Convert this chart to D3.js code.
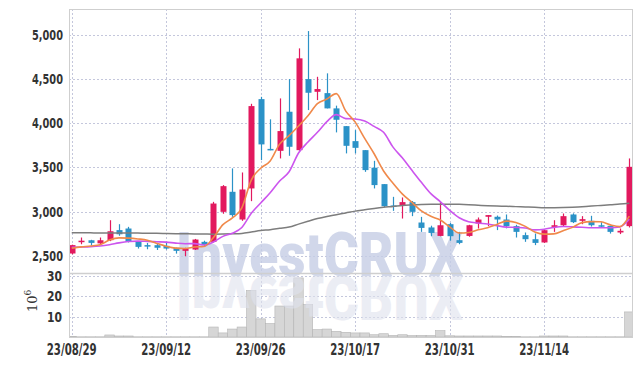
<!DOCTYPE html>
<html>
<head>
<meta charset="utf-8">
<script src="https://cdn.jsdelivr.net/npm/d3@7"></script>
<style>
  html, body { margin: 0; padding: 0; background: #fff; }
  svg { display: block; }
  .lbl { font-family: "Liberation Sans Narrow", "DejaVu Sans Condensed", sans-serif; font-weight: bold; fill: #333; }
</style>
</head>
<body>
<div id="chart"></div>
<script>
const dates = [
  "23/08/29","23/08/30","23/08/31","23/09/01","23/09/04","23/09/05","23/09/06","23/09/07","23/09/08","23/09/11",
  "23/09/12","23/09/13","23/09/14","23/09/15","23/09/18","23/09/19","23/09/20","23/09/21","23/09/22","23/09/25",
  "23/09/26","23/09/27","23/10/04","23/10/05","23/10/06","23/10/10","23/10/11","23/10/12","23/10/13","23/10/16",
  "23/10/17","23/10/18","23/10/19","23/10/20","23/10/23","23/10/24","23/10/25","23/10/26","23/10/27","23/10/30",
  "23/10/31","23/11/01","23/11/02","23/11/03","23/11/06","23/11/07","23/11/08","23/11/09","23/11/10","23/11/13",
  "23/11/14","23/11/15","23/11/16","23/11/17","23/11/20","23/11/21","23/11/22","23/11/23","23/11/24","23/11/27"
];
const open = [2525,2660,2675,2640,2676,2790,2808,2664,2620,2619,2612,2590,2555,2570,2657,2657,2997,3224,2910,3262,
  4274,3710,3688,4131,3696,4501,4357,4342,4169,3968,3798,3696,3497,3311,3069,3069,3107,2876,2820,2724,
  2857,2676,2724,2865,2941,2941,2910,2835,2733,2687,2650,2826,2845,2967,2895,2895,2845,2838,2763,2835];
const high = [2625,2706,2680,2706,2902,2857,2827,2664,2645,2645,2650,2590,2590,2690,2670,3110,3300,3489,3443,4221,
  4300,4045,4282,4501,4849,5045,4527,4566,4200,3968,3923,3696,3575,3311,3167,3160,3120,2940,2840,3110,
  2870,2770,2850,2933,2960,2955,2967,2850,2763,2751,2800,2902,2978,2980,2948,2952,2880,2838,2808,3602];
const low = [2515,2630,2615,2625,2665,2726,2650,2581,2573,2565,2570,2524,2494,2565,2610,2650,2975,2940,2895,3118,
  3583,3695,3602,3632,3690,4150,4263,4169,3897,3659,3659,3450,3262,3050,3008,2921,2948,2770,2721,2720,
  2670,2630,2715,2808,2835,2790,2810,2706,2657,2620,2645,2770,2835,2870,2857,2830,2820,2751,2745,2820];
const close = [2620,2670,2645,2675,2777,2743,2657,2600,2605,2590,2581,2555,2580,2683,2619,3091,3288,2960,3250,4195,
  3761,3700,3912,3734,4736,4346,4388,4169,4040,3745,3722,3470,3300,3061,3054,3107,2997,2815,2758,2845,
  2721,2645,2845,2910,2960,2910,2835,2770,2687,2645,2789,2845,2948,2880,2914,2845,2835,2770,2782,3507];
// volume, millions of shares
const volume = [0.3,0.1,0.1,0.1,1.0,0.5,0.5,0.1,0.1,0.1,0.1,0.1,0.1,0.1,0.1,4.9,2.0,3.9,4.9,22.8,
  8.9,6.6,15.2,15.2,29.0,15.9,3.6,3.9,2.8,2.3,2.0,2.0,1.1,1.6,0.8,1.1,0.7,0.8,0.7,3.1,
  0.6,0.5,0.5,0.5,0.5,0.5,0.2,0.2,0.1,0.1,0.5,0.5,0.5,0.1,0.1,0.1,0.1,0.1,0.1,12.3];
const ma5 = [2585,2600,2610,2625,2677,2702,2699,2690,2676,2639,2607,2586,2582,2598,2604,2706,2852,2928,3042,3357,
  3491,3573,3764,3860,3969,4086,4223,4275,4336,4138,4013,3829,3655,3460,3321,3198,3104,3007,2946,2904,
  2827,2757,2763,2793,2816,2854,2892,2877,2832,2769,2745,2747,2783,2821,2875,2886,2884,2849,2829,2948];
const ma10 = [2595,2598,2602,2610,2625,2645,2660,2665,2662,2658,2654,2643,2636,2637,2621,2656,2719,2755,2820,2980,
  3098,3213,3346,3451,3663,3788,3898,4019,4098,4053,4049,4026,3965,3898,3730,3606,3467,3331,3203,3113,
  3013,2930,2885,2870,2860,2841,2824,2820,2813,2793,2800,2820,2830,2827,2822,2816,2816,2816,2825,2912];
const ma60 = [2760,2760,2759,2758,2758,2757,2757,2756,2755,2754,2752,2750,2748,2746,2745,2744,2745,2748,2752,2768,
  2785,2795,2810,2825,2858,2890,2921,2945,2965,2985,3005,3020,3035,3048,3058,3070,3075,3079,3082,3084,
  3084,3082,3078,3072,3066,3062,3060,3056,3052,3048,3043,3044,3046,3050,3055,3062,3070,3078,3085,3095];
const dateTicks = ["23/08/29","23/09/12","23/09/26","23/10/17","23/10/31","23/11/14"];
const priceTicks = [2500,3000,3500,4000,4500,5000];
const volTicks = [10,20,30];

const W = 642, H = 366;
const pLeft = 69, pRight = 632, pTop = 9, pMid = 273, pBottom = 337;
const red = "#e2195e", blue = "#2b92c7";
const gridColor = "#c4c7dc";

const svg = d3.select("#chart").append("svg").attr("width", W).attr("height", H);

const x = d3.scaleBand().domain(dates).range([67, 634]);
const y = d3.scaleLinear().domain([2304, 5295]).range([pMid, pTop]);
const yv = d3.scaleLinear().domain([0, 31.4]).range([pBottom, pMid]);
const cx = (d) => x(d) + x.bandwidth() / 2;

svg.append("clipPath").attr("id", "pclip")
  .append("rect").attr("x", pLeft).attr("y", pTop).attr("width", pRight - pLeft).attr("height", pMid - pTop);
svg.append("clipPath").attr("id", "vclip")
  .append("rect").attr("x", pLeft).attr("y", pMid).attr("width", pRight - pLeft).attr("height", pBottom - pMid);

// grid
const grid = svg.append("g").attr("stroke", gridColor).attr("stroke-dasharray", "2,2").attr("stroke-width", 1);
grid.selectAll(".hp").data(priceTicks).join("line")
  .attr("class", "hp")
  .attr("x1", pLeft).attr("x2", pRight)
  .attr("y1", (d) => Math.round(y(d)) + 0.5).attr("y2", (d) => Math.round(y(d)) + 0.5);
grid.selectAll(".hv").data(volTicks).join("line")
  .attr("class", "hv")
  .attr("x1", pLeft).attr("x2", pRight)
  .attr("y1", (d) => Math.round(yv(d)) + 0.5).attr("y2", (d) => Math.round(yv(d)) + 0.5);
grid.selectAll(".vx").data(dateTicks).join("line")
  .attr("class", "vx")
  .attr("x1", (d) => Math.round(cx(d)) + 0.5).attr("x2", (d) => Math.round(cx(d)) + 0.5)
  .attr("y1", pTop).attr("y2", pBottom);

// volume bars
svg.append("g").attr("clip-path", "url(#vclip)")
  .selectAll("rect").data(dates).join("rect")
  .attr("x", (d) => x(d))
  .attr("width", x.bandwidth())
  .attr("y", (d, i) => yv(volume[i]))
  .attr("height", (d, i) => pBottom - yv(volume[i]))
  .attr("fill", "#d6d6d6").attr("stroke", "#b5b5b5").attr("stroke-width", 0.6);

// watermark + its reflection (mirrored about the baseline)
const wm = svg.append("g").attr("pointer-events", "none");
wm.append("text")
  .attr("x", 176).attr("y", 276)
  .attr("textLength", 287).attr("lengthAdjust", "spacingAndGlyphs")
  .style("font-family", "Roboto, 'Liberation Sans', sans-serif")
  .style("font-weight", 900).style("font-size", "61px")
  .attr("fill", "#c6cee6").attr("opacity", 0.8)
  .text("InvestCRUX");
wm.append("text")
  .attr("x", 176).attr("y", -276)
  .attr("transform", "scale(1,-1)")
  .attr("textLength", 287).attr("lengthAdjust", "spacingAndGlyphs")
  .style("font-family", "Roboto, 'Liberation Sans', sans-serif")
  .style("font-weight", 900).style("font-size", "61px")
  .attr("fill", "#dfe2ee").attr("opacity", 0.6)
  .text("InvestCRUX");

// candles
const cg = svg.append("g").attr("clip-path", "url(#pclip)");
const bw = 6;
const candle = cg.selectAll("g").data(dates).join("g");
candle.append("line")
  .attr("x1", (d) => Math.round(cx(d)) + 0.5).attr("x2", (d) => Math.round(cx(d)) + 0.5)
  .attr("y1", (d, i) => y(high[i])).attr("y2", (d, i) => y(low[i]))
  .attr("stroke", (d, i) => close[i] >= open[i] ? red : blue).attr("stroke-width", 1.2);
candle.append("rect")
  .attr("x", (d) => Math.round(cx(d)) + 0.5 - bw / 2)
  .attr("width", bw)
  .attr("y", (d, i) => y(Math.max(open[i], close[i])))
  .attr("height", (d, i) => Math.max(1.5, Math.abs(y(open[i]) - y(close[i]))))
  .attr("fill", (d, i) => close[i] >= open[i] ? red : blue);

// moving averages
const lineFor = (arr) => d3.line().x((d, i) => cx(dates[i])).y((d) => y(d)).curve(d3.curveMonotoneX)(arr);
cg.append("path").attr("d", lineFor(ma60)).attr("fill", "none").attr("stroke", "#7d7d7d").attr("stroke-width", 1.5);
cg.append("path").attr("d", lineFor(ma10)).attr("fill", "none").attr("stroke", "#cc55ee").attr("stroke-width", 1.6);
cg.append("path").attr("d", lineFor(ma5)).attr("fill", "none").attr("stroke", "#f0894a").attr("stroke-width", 1.6);

// frame
const fr = svg.append("g").attr("stroke", "#cfcfcf").attr("fill", "none");
fr.append("rect").attr("x", pLeft + 0.5).attr("y", pTop + 0.5).attr("width", pRight - pLeft).attr("height", pBottom - pTop);
fr.append("line").attr("x1", pLeft).attr("x2", pRight).attr("y1", pMid + 0.5).attr("y2", pMid + 0.5).attr("stroke-width", 1.5);

// axes labels (narrow face squeezed to the reference widths)
svg.append("g").selectAll("text").data(priceTicks).join("text")
  .attr("class", "lbl")
  .attr("x", 63).attr("y", (d) => y(d) + 5)
  .attr("text-anchor", "end").style("font-size", "14px")
  .attr("textLength", 31).attr("lengthAdjust", "spacingAndGlyphs")
  .text(d3.format(","));
svg.append("g").selectAll("text").data(volTicks).join("text")
  .attr("class", "lbl")
  .attr("x", 62).attr("y", (d) => yv(d) + 5)
  .attr("text-anchor", "end").style("font-size", "14px")
  .attr("textLength", 15).attr("lengthAdjust", "spacingAndGlyphs")
  .text((d) => d);
svg.append("g").selectAll("text").data(dateTicks).join("text")
  .attr("class", "lbl")
  .attr("x", (d) => cx(d) - 25).attr("y", 355)
  .style("font-size", "15px")
  .attr("textLength", 50).attr("lengthAdjust", "spacingAndGlyphs")
  .text((d) => d);

const unit = svg.append("text")
  .attr("transform", "translate(37,312) rotate(-90)")
  .style("font-family", "'DejaVu Serif', serif").style("font-size", "13px").attr("fill", "#333");
unit.append("tspan").text("10");
unit.append("tspan").attr("dy", -6).style("font-size", "9px").text("6");
</script>
</body>
</html>
